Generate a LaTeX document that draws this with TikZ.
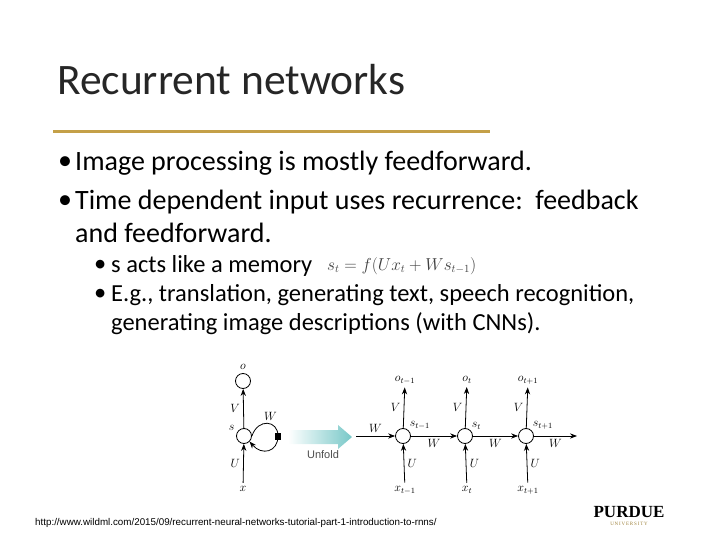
\documentclass[tikz,border=0pt]{standalone}
\usepackage{fontspec}
\setmainfont{Carlito}
\newfontfamily\diagfont{Liberation Sans}
\newfontfamily\logofont{Liberation Serif}
\usepackage{amsmath}
\usetikzlibrary{positioning}
\usetikzlibrary{arrows.meta}
\definecolor{gold}{RGB}{196,160,72}
\definecolor{unfoldcyan}{RGB}{120,200,200}
\tikzset{
	x=1pt, y=-1pt,
	unit/.style={circle, draw, thick, minimum size=15pt, inner sep=0pt},
	lbl/.style={font=\fontsize{12}{12}\selectfont},
	flow/.style={draw, -{Stealth[length=7pt]}, thick},
	bullet/.style={anchor=west, inner sep=0pt, font=\fontsize{28}{32}\selectfont},
	subbullet/.style={anchor=west, inner sep=0pt, font=\fontsize{24.5}{28}\selectfont}
}
\begin{document}
\begin{tikzpicture}
	\useasboundingbox (0,0) rectangle (720,540);
	\node[anchor=west, inner sep=0pt, font=\fontsize{43.5}{46}\selectfont, text=black!85] (title) at (57,80) {Recurrent networks};
	\draw[gold, line width=3pt] (53,132) -- (490,132);
	% bullets
	\node[bullet] (d1) at (58,163) {\textbullet};
	\node[bullet] (b1) at (75,163) {Image processing is mostly feedforward.};
	\node[bullet] (d2) at (58,202) {\textbullet};
	\node[bullet] (b2) at (75,202) {Time dependent input uses recurrence:\ \ feedback};
	\node[bullet] (b2b) at (75,233) {and feedforward.};
	\node[subbullet] (e1) at (94,266) {\textbullet};
	\node[subbullet] (c1) at (111,266) {s acts like a memory};
	\node[anchor=west, inner sep=0pt, text=black!75, font=\fontsize{16}{16}\selectfont] (eq) at (327,266) {$s_t = f(Ux_t + Ws_{t-1})$};
	\node[subbullet] (e2) at (94,295) {\textbullet};
	\node[subbullet] (c2) at (111,295) {E.g., translation, generating text, speech recognition,};
	\node[subbullet] (c3) at (111,324) {generating image descriptions (with CNNs).};
	% folded
	\node[unit] (o) at (243,381) {};
	\node[lbl, above=0pt of o] {$o$};
	\node[unit] (s) at (244,436) {};
	\node[lbl, anchor=east] at (238,428) {$s$};
	\node[lbl] (x) at (243,489) {$x$};
	\draw[flow] (x) -- (s) node[lbl, midway, left] {$U$};
	\draw[flow] (s) -- (o) node[lbl, midway, left] {$V$};
	\draw[thick] (s.east) .. controls (258,418) and (278,420) .. (278,436)
		node[lbl, pos=0.6, above] {$W$};
	\draw[flow] (278,436) .. controls (278,452) and (262,456) .. (s.south east);
	\fill (275,433) rectangle (281,440);
	% unfold arrow
	\shade[left color=white, right color=unfoldcyan] (288,430) -- (338,430) -- (338,425) -- (352,437) -- (338,449) -- (338,444) -- (288,444) -- cycle;
	\node[font=\diagfont\fontsize{11}{11}\selectfont, text=black!70] (unf) at (323,455) {Unfold};
	% unfolded
	\coordinate (in) at (356,436);
	\coordinate (out) at (577,436);
	\foreach \n/\xx/\sub in {a/403/{t-1}, b/465/{t}, c/526/{t+1}} {
		\node[unit] (s\n) at (\xx,436) {};
		\node[lbl, anchor=south west, inner sep=1pt] at (s\n.north east) {$s_{\sub}$};
		\node[lbl] (o\n) at (\xx+2,380) {$o_{\sub}$};
		\node[lbl] (x\n) at (\xx+2,490) {$x_{\sub}$};
		\draw[flow] (s\n) -- (o\n) node[lbl, midway, left] {$V$};
		\draw[flow] (x\n) -- (s\n) node[lbl, midway, right] {$U$};
	}
	\draw[flow] (in) -- (sa) node[lbl, midway, above] {$W$};
	\draw[flow] (sa) -- (sb) node[lbl, midway, below] {$W$};
	\draw[flow] (sb) -- (sc) node[lbl, midway, below] {$W$};
	\draw[flow] (sc) -- (out) node[lbl, midway, below] {$W$};
	% footer
	\node[anchor=west, inner sep=0pt, font=\diagfont\fontsize{9.8}{10}\selectfont] (url) at (35,523) {http://www.wildml.com/2015/09/recurrent-neural-networks-tutorial-part-1-introduction-to-rnns/};
	\node[font=\logofont\bfseries\fontsize{17}{17}\selectfont, inner sep=0pt] (purdue) at (629,512) {PURDUE};
	\node[below=4pt of purdue, font=\logofont\fontsize{5}{5}\selectfont, inner sep=0pt, text=gold!80!black] {U\,N\,I\,V\,E\,R\,S\,I\,T\,Y};
\end{tikzpicture}
\end{document}
